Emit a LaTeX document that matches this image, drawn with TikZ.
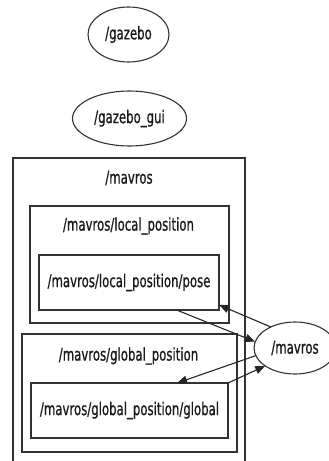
\documentclass[tikz,border=0pt]{standalone}
\usepackage{fontspec}
\setmainfont{DejaVu Sans}[FakeStretch=0.67,FakeBold=0.8]
\usetikzlibrary{arrows.meta,shapes.geometric}

\tikzset{
  lbl/.style={font=\fontsize{17.5}{20}\selectfont, inner sep=0pt, text=black!90},
  topic/.style={draw=black!80, line width=1.1pt, ellipse, inner sep=0pt, outer sep=0pt},
  boxnode/.style={draw=black!80, line width=1.1pt, rectangle, inner sep=0pt, outer sep=0pt},
  edge/.style={draw=black!85, line width=1.1pt, -{Triangle[length=10pt,width=8pt]}},
}

\begin{document}
\begin{tikzpicture}[x=1pt,y=-1pt]
  \useasboundingbox (0,0) rectangle (329,461);

  % stand-alone nodes
  \node[topic, minimum width=81pt, minimum height=55pt] (gazebo) at (128.5,34.5) {};
  \node[lbl] at (gazebo) {/gazebo};
  \node[topic, minimum width=114pt, minimum height=55pt] (gazebogui) at (129.5,118.5) {};
  \node[lbl] at (gazebogui) {/gazebo\_gui};

  % namespace /mavros (runs off the bottom)
  \draw[draw=black!80, line width=1.1pt] (13,461) -- (13,158) -- (245,158) -- (245,461);
  \node[lbl] (nsmavros) at (129,178) {/mavros};

  % /mavros/local_position
  \node[boxnode, minimum width=199pt, minimum height=117pt] (nslocal) at (129.5,264.5) {};
  \node[lbl] (nslocallbl) at (128.5,226) {/mavros/local\_position};
  \node[boxnode, minimum width=180pt, minimum height=55pt] (pose) at (129,282.5) {};
  \node[lbl] at (pose) {/mavros/local\_position/pose};

  % /mavros/global_position
  \node[boxnode, minimum width=215pt, minimum height=118pt] (nsglobal) at (129.5,393) {};
  \node[lbl] (nsgloballbl) at (128.5,356) {/mavros/global\_position};
  \node[boxnode, minimum width=197pt, minimum height=55pt] (global) at (129.5,410.5) {};
  \node[lbl] at (global) {/mavros/global\_position/global};

  % the /mavros node
  \node[topic, minimum width=82pt, minimum height=52pt] (mavros) at (295,348) {};
  \node[lbl] at (mavros) {/mavros};

  % connections
  \draw[edge] (mavros.139) -- (pose.-14);
  \draw[edge] (pose.-30) -- (mavros.171);
  \draw[edge] (mavros.191) -- (global.30);
  \draw[edge] (global.north east) -- (mavros.211);
\end{tikzpicture}
\end{document}
